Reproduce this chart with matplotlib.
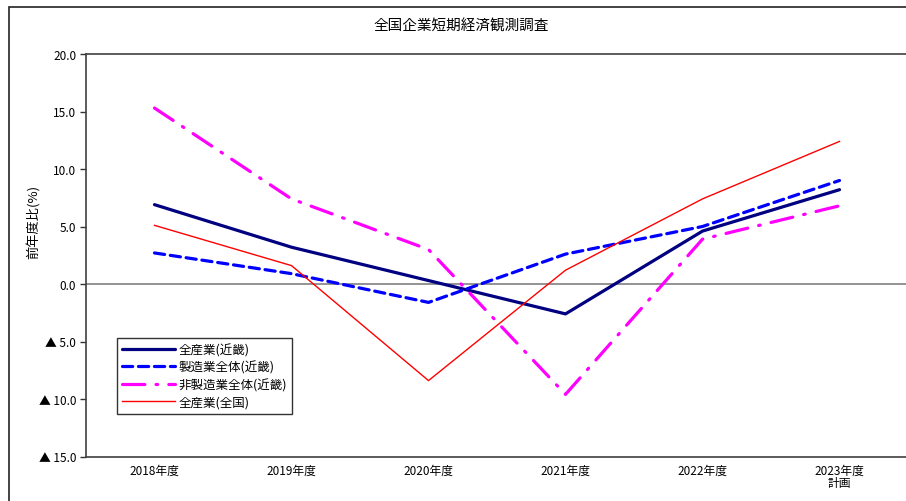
import numpy as np
import matplotlib
matplotlib.use('Agg')
import matplotlib.pyplot as plt
from matplotlib.patches import Rectangle
from matplotlib.ticker import FixedLocator, FuncFormatter

plt.rcParams['font.family'] = ['Noto Sans CJK JP', 'DejaVu Sans']

years = ['2018年度', '2019年度', '2020年度', '2021年度', '2022年度', '2023年度\n計画']
kinki_all = [6.9, 3.2, 0.3, -2.6, 4.6, 8.2]
kinki_mfg = [2.7, 0.9, -1.6, 2.6, 5.0, 9.0]
kinki_nonmfg = [15.3, 7.4, 3.0, -9.6, 3.9, 6.8]
national_all = [5.1, 1.6, -8.4, 1.2, 7.4, 12.4]

W, H = 906, 502
fig = plt.figure(figsize=(W / 100, H / 100), dpi=100)
fig.patch.set_facecolor('white')

# outer chart frame (runs off the right and bottom edge)
fig.add_artist(Rectangle((9 / W, -0.1), 1.2, 1.1 - 8 / H, transform=fig.transFigure,
                         fill=False, edgecolor='#222222', linewidth=1.2, clip_on=False))

left, right, top, bottom = 86, 908, 55, 457.5
ax = fig.add_axes([left / W, 1 - bottom / H, (right - left) / W, (bottom - top) / H])

x = np.arange(len(years))
ax.plot(x, kinki_all, color='#000080', lw=2.3, solid_capstyle='round', label='全産業(近畿)', zorder=4)
ax.plot(x, kinki_mfg, color='#0000FF', lw=2.3, dashes=(3.2, 1.8), dash_capstyle='round',
        label='製造業全体(近畿)', zorder=4)
ax.plot(x, kinki_nonmfg, color='#FF00FF', lw=2.3, dashes=(7, 3.5, 0.5, 3.5), dash_capstyle='round',
        label='非製造業全体(近畿)', zorder=4)
ax.plot(x, national_all, color='#FF0000', lw=1.0, label='全産業(全国)', zorder=4)

ax.axhline(0, color='#808080', lw=1.2, zorder=2)

ax.set_xlim(-0.5, len(years) - 0.5)
ax.set_ylim(-15, 20)
ax.set_xticks(x)
ax.set_xticklabels(years, fontsize=8.5, linespacing=1.0)
ax.tick_params(axis='x', length=0, pad=5)
ax.yaxis.set_major_locator(FixedLocator(np.arange(-15, 20.1, 5)))
ax.yaxis.set_major_formatter(FuncFormatter(lambda v, p: f'▲ {abs(v):.1f}' if v < 0 else f'{v:.1f}'))
ax.tick_params(axis='y', direction='out', length=4, width=1, labelsize=8.5, pad=3, color='#333333')

for side in ('top', 'left', 'bottom', 'right'):
    ax.spines[side].set_color('#404040')
    ax.spines[side].set_linewidth(1.2)

ax.set_ylabel('前年度比(%)', fontsize=9.5)
ax.yaxis.set_label_coords((41 - left) / (right - left), (bottom - 222) / (bottom - top))

fig.text(461 / W, 1 - 27 / H, '全国企業短期経済観測調査', ha='center', va='center', fontsize=10.5)

leg = ax.legend(loc='upper left', bbox_to_anchor=((117 - left) / (right - left), 1 - (339 - top) / (bottom - top)),
                fontsize=9, frameon=True, fancybox=False, edgecolor='black', borderpad=0.4,
                handlelength=4.2, handletextpad=0.3, labelspacing=0.35, borderaxespad=0)
leg.get_frame().set_linewidth(1.0)

fig.savefig('out.png', dpi=100)
